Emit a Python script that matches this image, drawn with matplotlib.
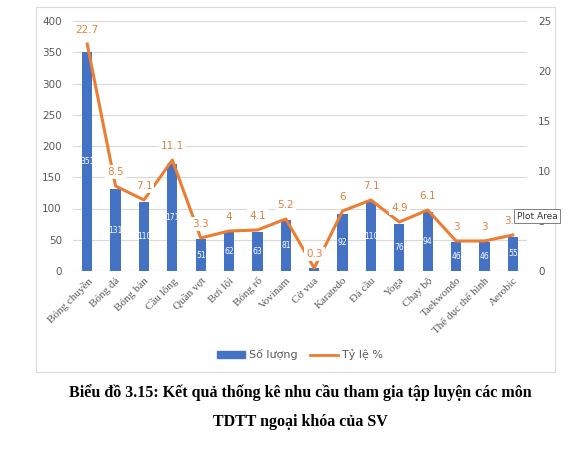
import numpy as np
import matplotlib.pyplot as plt
from matplotlib.patches import Rectangle
from matplotlib.lines import Line2D

# data
mon = ["Bóng chuyền", "Bóng đá", "Bóng bàn", "Cầu lông", "Quần vợt", "Bơi lội",
       "Bóng rổ", "Vovinam", "Cờ vua", "Karatedo", "Đá cầu", "Yoga", "Chạy bộ",
       "Taekwondo", "Thể dục thể hình", "Aerobic"]
so_luong = [351, 131, 110, 171, 51, 62, 63, 81, 5, 92, 110, 76, 94, 46, 46, 55]
ty_le = [22.7, 8.5, 7.1, 11.1, 3.3, 4, 4.1, 5.2, 0.3, 6, 7.1, 4.9, 6.1, 3, 3, 3.6]

blue = "#4472C4"
orange = "#ED7D31"
grey = "#595959"

fig = plt.figure(figsize=(5.83, 4.51), dpi=100)

# chart area border
fig.patches.append(Rectangle((36/583, 1 - 372/451), 519/583, 365/451,
                             transform=fig.transFigure, fill=False,
                             edgecolor="#D9D9D9", linewidth=0.8))

ax = fig.add_axes([73/583, 1 - 271/451, 454/583, 250/451])
x = np.arange(len(mon))
bars = ax.bar(x, so_luong, width=0.36, color=blue, zorder=2)
ax.set_ylim(0, 400)
ax.set_yticks(range(0, 401, 50))
ax.set_xlim(-0.5, len(mon) - 0.5)
ax.grid(axis="y", color="#D9D9D9", linewidth=0.8, zorder=0)
for s in ax.spines.values():
    s.set_visible(False)
ax.axhline(0, color="#D9D9D9", linewidth=0.8, zorder=1)
ax.tick_params(axis="both", length=0, labelsize=7.5, labelcolor=grey)
ax.tick_params(axis="y", pad=8)
ax.set_xticks(x)
ax.set_xticklabels(mon, rotation=45, ha="right", rotation_mode="anchor",
                   family="Liberation Serif", fontsize=8)
for b, v in zip(bars, so_luong):
    if v > 20:
        ax.text(b.get_x() + b.get_width()/2, v/2, str(v), ha="center", va="center",
                color="white", fontsize=5.5, zorder=3)

ax2 = ax.twinx()
ax2.plot(x, ty_le, color=orange, linewidth=2.2, zorder=4)
ax2.set_ylim(0, 25)
ax2.set_yticks(range(0, 26, 5))
for s in ax2.spines.values():
    s.set_visible(False)
ax2.tick_params(axis="y", length=0, labelsize=7.5, labelcolor=grey, pad=8)
for xi, v in zip(x, ty_le):
    ax2.annotate(f"{v:g}", (xi, v), xytext=(0, 10), textcoords="offset points",
                 ha="center", va="center", color="#E08443", fontsize=7.5,
                 bbox=dict(boxstyle="square,pad=0.2", fc="white", ec="none"), zorder=5)

# legend
handles = [Rectangle((0, 0), 1, 1, color=blue),
           Line2D([0], [0], color=orange, linewidth=2)]
fig.legend(handles, ["Số lượng", "Tỷ lệ %"], loc="center", bbox_to_anchor=(300/583, 1 - 355/451),
           ncol=2, frameon=False, fontsize=8, handlelength=2.5, handleheight=0.5,
           columnspacing=1.2, handletextpad=0.3, labelcolor=grey)

# Excel tooltip left in the screenshot
fig.text(537/583, 1 - 216/451, "Plot Area", ha="center", va="center", fontsize=6.5,
         color="#333333", bbox=dict(boxstyle="square,pad=0.25", fc="white", ec="#7F7F7F", lw=0.7),
         zorder=10)

fig.text(300/583, 1 - 393/451, "Biểu đồ 3.15: Kết quả thống kê nhu cầu tham gia tập luyện các môn",
         ha="center", va="center", family="Liberation Serif", fontweight="bold", fontsize=11.5)
fig.text(300/583, 1 - 422/451, "TDTT ngoại khóa của SV",
         ha="center", va="center", family="Liberation Serif", fontweight="bold", fontsize=11.5)

fig.savefig("out.png", dpi=100)
